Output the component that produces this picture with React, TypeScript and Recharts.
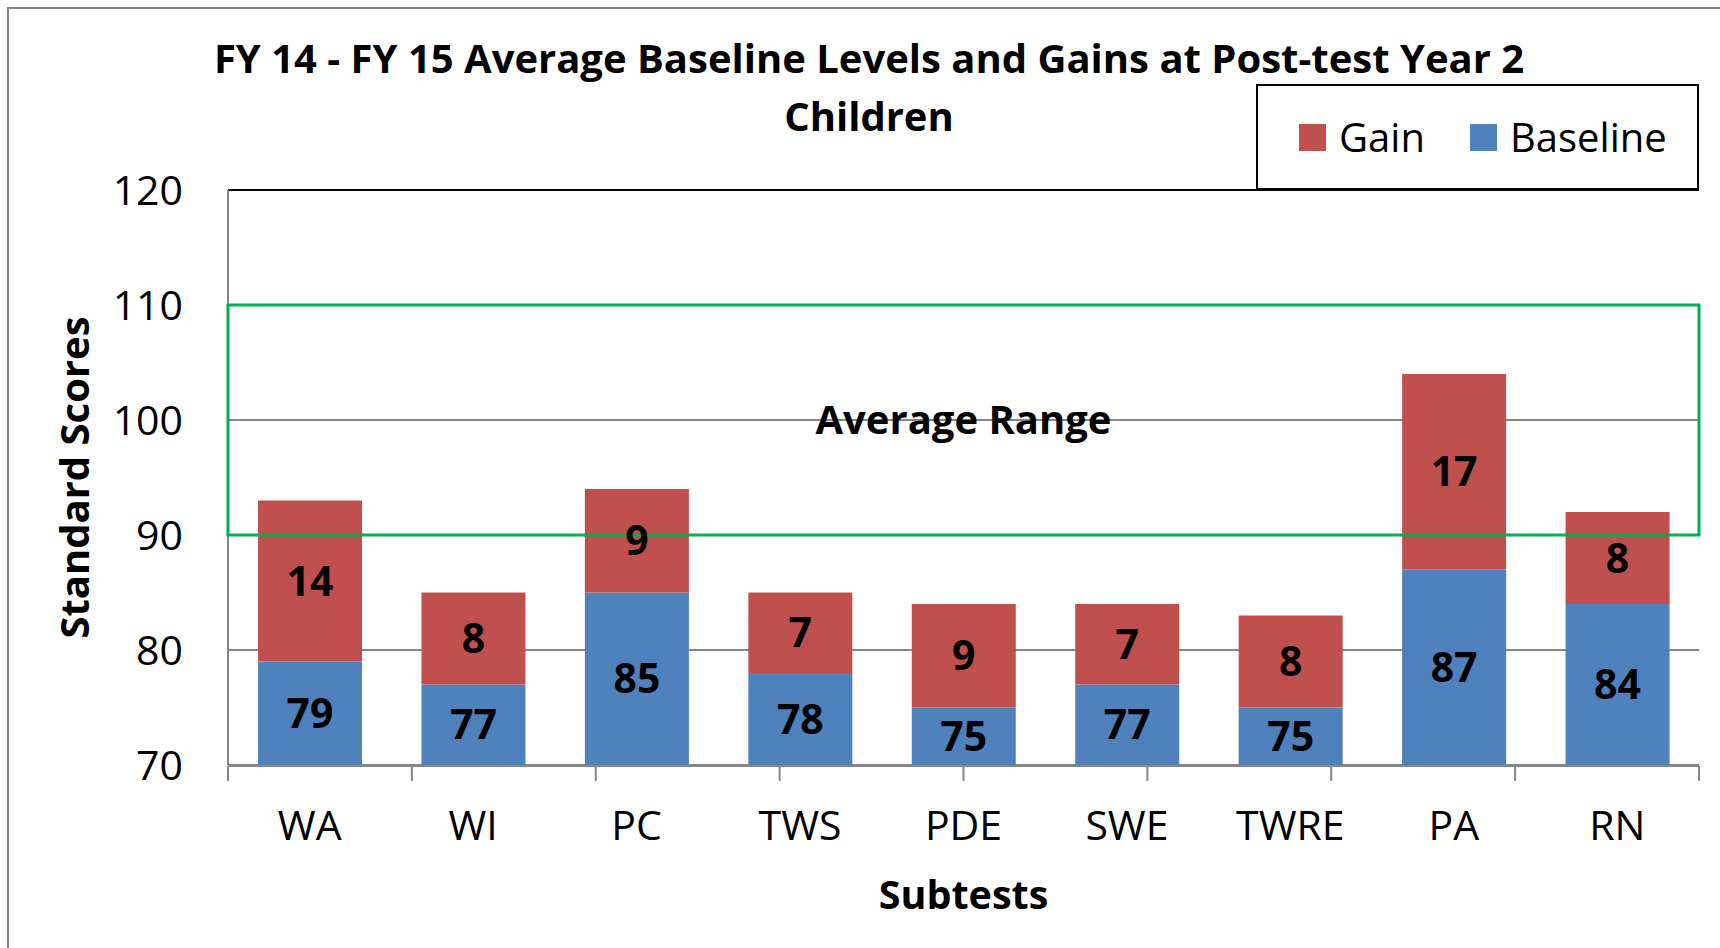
import React from 'react';
import {
  BarChart,
  Bar,
  XAxis,
  YAxis,
  CartesianGrid,
  Legend,
  LabelList,
  ReferenceArea,
  ReferenceLine,
} from 'recharts';

const subtests = ['WA', 'WI', 'PC', 'TWS', 'PDE', 'SWE', 'TWRE', 'PA', 'RN'];
const baseline = [79, 77, 85, 78, 75, 77, 75, 87, 84];
const gain = [14, 8, 9, 7, 9, 7, 8, 17, 8];
const yTicks = [70, 80, 90, 100, 110, 120];
const edgeTicks = [0, 1, 2, 3, 4, 5, 6, 7, 8, 9];

const data = subtests.map((name, i) => ({ name, baseline: baseline[i], gain: gain[i] }));

const FONT = "'Open Sans', sans-serif";
const GRAY = '#868686';

function LegendBox(props: any) {
  const items = [...(props.payload || [])].reverse();
  return (
    <div
      style={{
        boxSizing: 'border-box',
        width: 443,
        height: 106,
        border: '2px solid #000',
        background: '#fff',
        display: 'flex',
        alignItems: 'center',
        paddingLeft: 41,
        fontFamily: FONT,
        fontSize: 40,
        color: '#000',
      }}
    >
      {items.map((it: any, i: number) => (
        <div key={it.value} style={{ display: 'flex', alignItems: 'center', marginLeft: i === 0 ? 0 : 45 }}>
          <span style={{ width: 27, height: 27, background: it.color, display: 'inline-block', marginRight: 13 }} />
          <span style={{ lineHeight: 1 }}>{it.value}</span>
        </div>
      ))}
    </div>
  );
}

export default function App() {
  return (
    <div style={{ position: 'absolute', left: 0, top: 0, width: 1720, height: 948, overflow: 'hidden', background: '#fff' }}>
      <div
        style={{
          position: 'absolute',
          left: 7,
          top: 7,
          width: 1800,
          height: 1000,
          border: `2px solid ${GRAY}`,
        }}
      />
      <div
        style={{
          position: 'absolute',
          left: 0,
          top: 29,
          width: 1738,
          textAlign: 'center',
          fontFamily: FONT,
          fontWeight: 700,
          fontSize: 40,
          lineHeight: '58px',
          color: '#000',
        }}
      >
        FY 14 - FY 15 Average Baseline Levels and Gains at Post-test Year 2
        <br />
        Children
      </div>
      <div style={{ position: 'absolute', left: 0, top: 0 }}>
        <BarChart
          width={1720}
          height={948}
          data={data}
          margin={{ top: 190, right: 21, bottom: 34, left: 0 }}
          style={{ fontFamily: FONT }}
        >
          <CartesianGrid xAxisId="cat" vertical={false} stroke={GRAY} strokeWidth={2} />
          {/* category labels; thin axis so the edge-tick axis sits right under the plot */}
          <XAxis
            xAxisId="cat"
            dataKey="name"
            height={1}
            axisLine={false}
            tickLine={false}
            tickSize={0}
            tickMargin={46}
            tick={{ fill: '#000', fontSize: 41 }}
          />
          <XAxis
            xAxisId="edge"
            type="number"
            domain={[0, 9]}
            ticks={edgeTicks}
            allowDataOverflow
            height={148}
            tickFormatter={() => ''}
            tickSize={15}
            stroke={GRAY}
            strokeWidth={2}
            label={{
              value: 'Subtests',
              position: 'insideBottom',
              offset: 5,
              style: { fontWeight: 700, fontSize: 39.5, fill: '#000' },
            }}
          />
          <YAxis
            width={228}
            domain={[70, 120]}
            ticks={yTicks}
            allowDataOverflow
            tickLine={false}
            tickSize={0}
            tickMargin={45}
            stroke={GRAY}
            strokeWidth={2}
            tick={{ fill: '#000', fontSize: 41 }}
            label={{
              value: 'Standard Scores',
              angle: -90,
              position: 'insideLeft',
              offset: 75,
              style: { fontWeight: 700, fontSize: 40, fill: '#000', textAnchor: 'middle' },
            }}
          />
          <Legend
            layout="vertical"
            align="center"
            verticalAlign="middle"
            content={LegendBox}
            wrapperStyle={{ left: 1256, top: 84, width: 443, height: 106 }}
          />
          <Bar xAxisId="cat" dataKey="baseline" name="Baseline" stackId="s" fill="#4F81BD" barSize={104} isAnimationActive={false}>
            <LabelList dataKey="baseline" position="center" fill="#000" fontSize={41} fontWeight={700} />
          </Bar>
          <Bar xAxisId="cat" dataKey="gain" name="Gain" stackId="s" fill="#C0504D" barSize={104} isAnimationActive={false}>
            <LabelList dataKey="gain" position="center" fill="#000" fontSize={41} fontWeight={700} />
          </Bar>
          <ReferenceLine xAxisId="cat" y={120} stroke="#000" strokeWidth={2} />
          <ReferenceLine xAxisId="edge" x={9} stroke="#000" strokeWidth={2} />
          <ReferenceArea
            xAxisId="cat"
            y1={90}
            y2={110}
            fill="none"
            fillOpacity={0}
            stroke="#00B050"
            strokeWidth={3}
            zIndex={500}
            label={{
              value: 'Average Range',
              position: 'center',
              style: { fontWeight: 700, fontSize: 40, fill: '#000' },
            }}
          />
        </BarChart>
      </div>
    </div>
  );
}
